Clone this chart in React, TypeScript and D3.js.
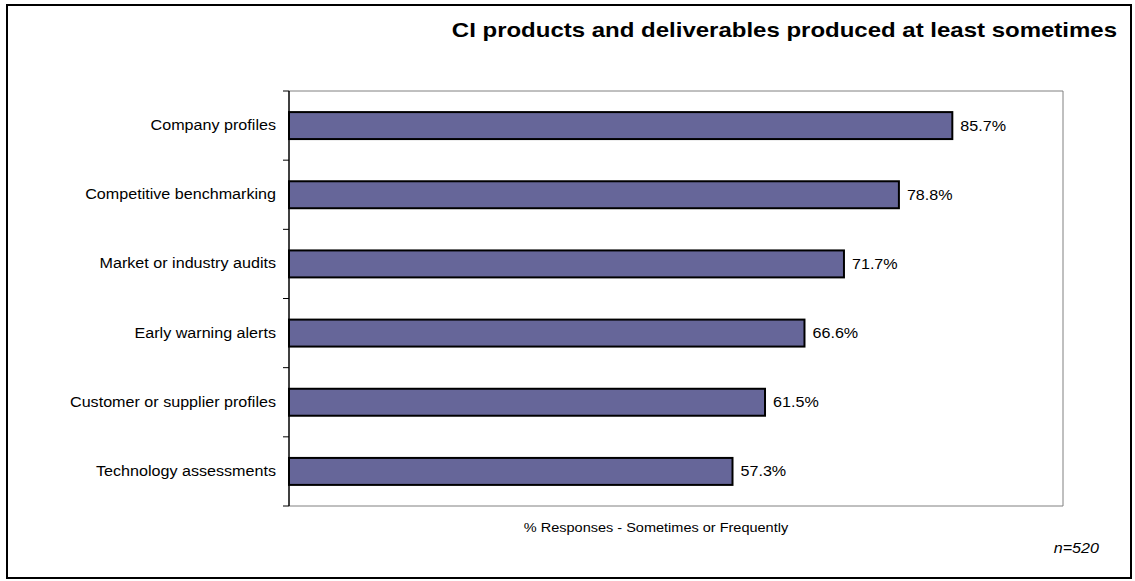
import React from "react";
import * as d3 from "d3";

const categories = [
  "Company profiles",
  "Competitive benchmarking",
  "Market or industry audits",
  "Early warning alerts",
  "Customer or supplier profiles",
  "Technology assessments",
];
const values = [85.7, 78.8, 71.7, 66.6, 61.5, 57.3];
const xDomain = [0, 100];
const title = "CI products and deliverables produced at least sometimes";
const xLabel = "% Responses - Sometimes or Frequently";
const note = "n=520";

const W = 1135;
const H = 581;
const plot = { left: 289, right: 1063, top: 91, bottom: 506 };
const SX = 1.075;

export default function App() {
  const x = d3.scaleLinear().domain(xDomain).range([plot.left, plot.right]);
  const y = d3
    .scaleBand<string>()
    .domain(categories)
    .range([plot.top, plot.bottom])
    .paddingInner(0.61)
    .paddingOuter(0.305);
  const step = (plot.bottom - plot.top) / categories.length;
  const tickYs = d3.range(categories.length + 1).map((i) => plot.top + i * step);
  const font = "Arial, 'Liberation Sans', sans-serif";

  return (
    <svg
      width={W}
      height={H}
      style={{ position: "absolute", left: 0, top: 0, background: "#fff" }}
      fontFamily={font}
    >
      <rect x={7} y={5} width={1124} height={573} fill="#fff" stroke="#000" strokeWidth={2} />
      <g transform={`translate(1117,37) scale(1.2,1)`}>
        <text x={0} y={0} textAnchor="end" fontSize={20} fontWeight="bold" fill="#000">
          {title}
        </text>
      </g>
      {/* plot frame */}
      <polyline
        points={`${plot.left},${plot.top} ${plot.right},${plot.top} ${plot.right},${plot.bottom} ${plot.left},${plot.bottom}`}
        fill="none"
        stroke="#808080"
        strokeWidth={1}
      />
      {values.map((v, i) => {
        const c = categories[i];
        const yy = y(c)!;
        const cy = yy + y.bandwidth() / 2;
        return (
          <g key={c}>
            <rect
              x={x(0)}
              y={yy}
              width={x(v) - x(0)}
              height={y.bandwidth()}
              fill="#666699"
              stroke="#000"
              strokeWidth={2}
            />
            <g transform={`translate(${x(v) + 8},${cy + 5}) scale(${SX},1)`}>
              <text x={0} y={0} fontSize={15} fill="#000">
                {v.toFixed(1)}%
              </text>
            </g>
            <g transform={`translate(276,${cy + 4.5}) scale(${SX},1)`}>
              <text x={0} y={0} textAnchor="end" fontSize={15} fill="#000">
                {c}
              </text>
            </g>
          </g>
        );
      })}
      <line x1={plot.left} x2={plot.left} y1={plot.top} y2={plot.bottom} stroke="#000" strokeWidth={1.5} />
      {tickYs.map((ty, i) => (
        <line key={i} x1={plot.left - 6} x2={plot.left} y1={ty} y2={ty} stroke="#000" strokeWidth={1} />
      ))}
      <g transform={`translate(656,532) scale(${SX},1)`}>
        <text x={0} y={0} textAnchor="middle" fontSize={13.5} fill="#000">
          {xLabel}
        </text>
      </g>
      <g transform={`translate(1099,553) scale(${SX},1)`}>
        <text x={0} y={0} textAnchor="end" fontSize={15} fontStyle="italic" fill="#000">
          {note}
        </text>
      </g>
    </svg>
  );
}
